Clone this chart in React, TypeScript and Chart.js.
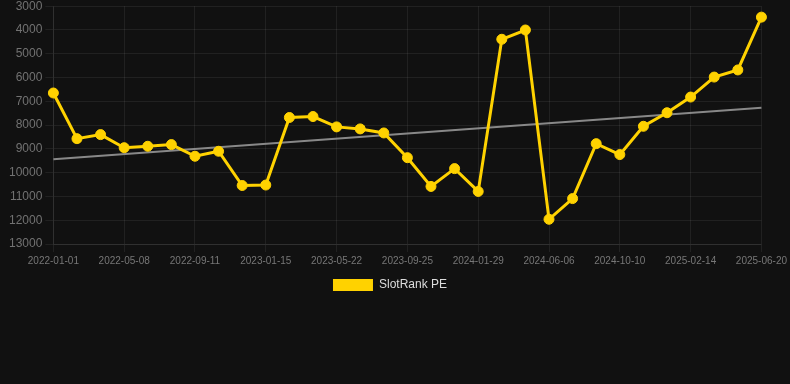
import React, { useEffect, useRef } from "react";
import { Chart, registerables } from "chart.js";

Chart.register(...registerables);

const dateLabels: string[] = [
  "2022-01-01", "2022-02-12", "2022-03-26", "2022-05-08", "2022-06-19", "2022-07-31",
  "2022-09-11", "2022-10-23", "2022-12-04", "2023-01-15", "2023-02-26", "2023-04-09",
  "2023-05-22", "2023-07-03", "2023-08-14", "2023-09-25", "2023-11-06", "2023-12-18",
  "2024-01-29", "2024-03-11", "2024-04-23", "2024-06-06", "2024-07-18", "2024-08-29",
  "2024-10-10", "2024-11-21", "2025-01-02", "2025-02-14", "2025-03-28", "2025-05-09",
  "2025-06-20",
];

const slotRankPE: number[] = [
  6650, 8570, 8400, 8950, 8890, 8820, 9310, 9100, 10540, 10520,
  7680, 7640, 8075, 8160, 8330, 9370, 10580, 9830, 10790, 4390,
  4000, 11960, 11090, 8780, 9240, 8050, 7480, 6820, 5980, 5680,
  3460,
];

const trendStart = 9440;
const trendEnd = 7270;

const yMin = 3000;
const yMax = 13000;
const yStep = 1000;

const shiftLegend = {
  id: "shiftLegend",
  afterLayout(chart: any) {
    if (chart.legend) {
      chart.legend.left -= 8;
      chart.legend.right -= 8;
      chart.legend.top -= 1;
      chart.legend.bottom -= 1;
    }
  },
};

export default function App() {
  const ref = useRef<HTMLCanvasElement | null>(null);

  useEffect(() => {
    document.body.style.margin = "0";
    document.body.style.background = "#111111";
    const canvas = ref.current;
    if (!canvas) return;
    const grid = "rgba(255,255,255,0.07)";
    const chart = new Chart(canvas, {
      type: "line",
      data: {
        labels: dateLabels,
        datasets: [
          {
            label: "SlotRank PE",
            data: slotRankPE,
            borderColor: "#FFD200",
            backgroundColor: "#FFD200",
            borderWidth: 3,
            pointRadius: 5,
            pointBorderWidth: 1,
            pointBackgroundColor: "#FFD200",
            pointBorderColor: "#FFD200",
            tension: 0,
            order: 1,
          },
          {
            label: "trend",
            data: [
              { x: dateLabels[0], y: trendStart },
              { x: dateLabels[dateLabels.length - 1], y: trendEnd },
            ] as any,
            borderColor: "rgba(150,150,150,0.9)",
            backgroundColor: "rgba(150,150,150,0.9)",
            borderWidth: 2,
            pointRadius: 0,
            order: 2,
          },
        ],
      },
      options: {
        animation: false,
        responsive: true,
        maintainAspectRatio: false,
        layout: { padding: { left: 6, right: 0, top: 0, bottom: 0 } },
        plugins: {
          tooltip: { enabled: false },
          legend: {
            position: "bottom",
            labels: {
              color: "#dddddd",
              boxWidth: 40,
              boxHeight: 12,
              font: { size: 12, family: "Arial, 'Liberation Sans', sans-serif" },
              filter: (item) => item.text !== "trend",
              generateLabels: (c: any) =>
                Chart.defaults.plugins.legend.labels
                  .generateLabels(c)
                  .map((it: any) => ({ ...it, lineWidth: 0, strokeStyle: "transparent" })),
            },
          },
        },
        scales: {
          x: {
            grid: {
              color: (ctx: any) => (ctx.index % 3 === 0 ? grid : "transparent"),
              tickColor: (ctx: any) => (ctx.index % 3 === 0 ? grid : "transparent"),
            },
            border: { color: grid },
            ticks: {
              autoSkip: false,
              maxRotation: 0,
              color: "#777777",
              font: { size: 10, family: "Arial, 'Liberation Sans', sans-serif" },
              callback: (_v: any, i: number) => (i % 3 === 0 ? dateLabels[i] : ""),
            },
          },
          y: {
            reverse: true,
            min: yMin,
            max: yMax,
            grid: { color: grid },
            border: { color: grid },
            ticks: {
              stepSize: yStep,
              color: "#727272",
              font: { size: 12, family: "Arial, 'Liberation Sans', sans-serif" },
              callback: (v: any) => String(v),
            },
          },
        },
      },
      plugins: [shiftLegend],
    });
    return () => chart.destroy();
  }, []);

  return (
    <div style={{ position: "relative", width: 790, height: 306, marginTop: -4 }}>
      <canvas ref={ref} />
    </div>
  );
}
